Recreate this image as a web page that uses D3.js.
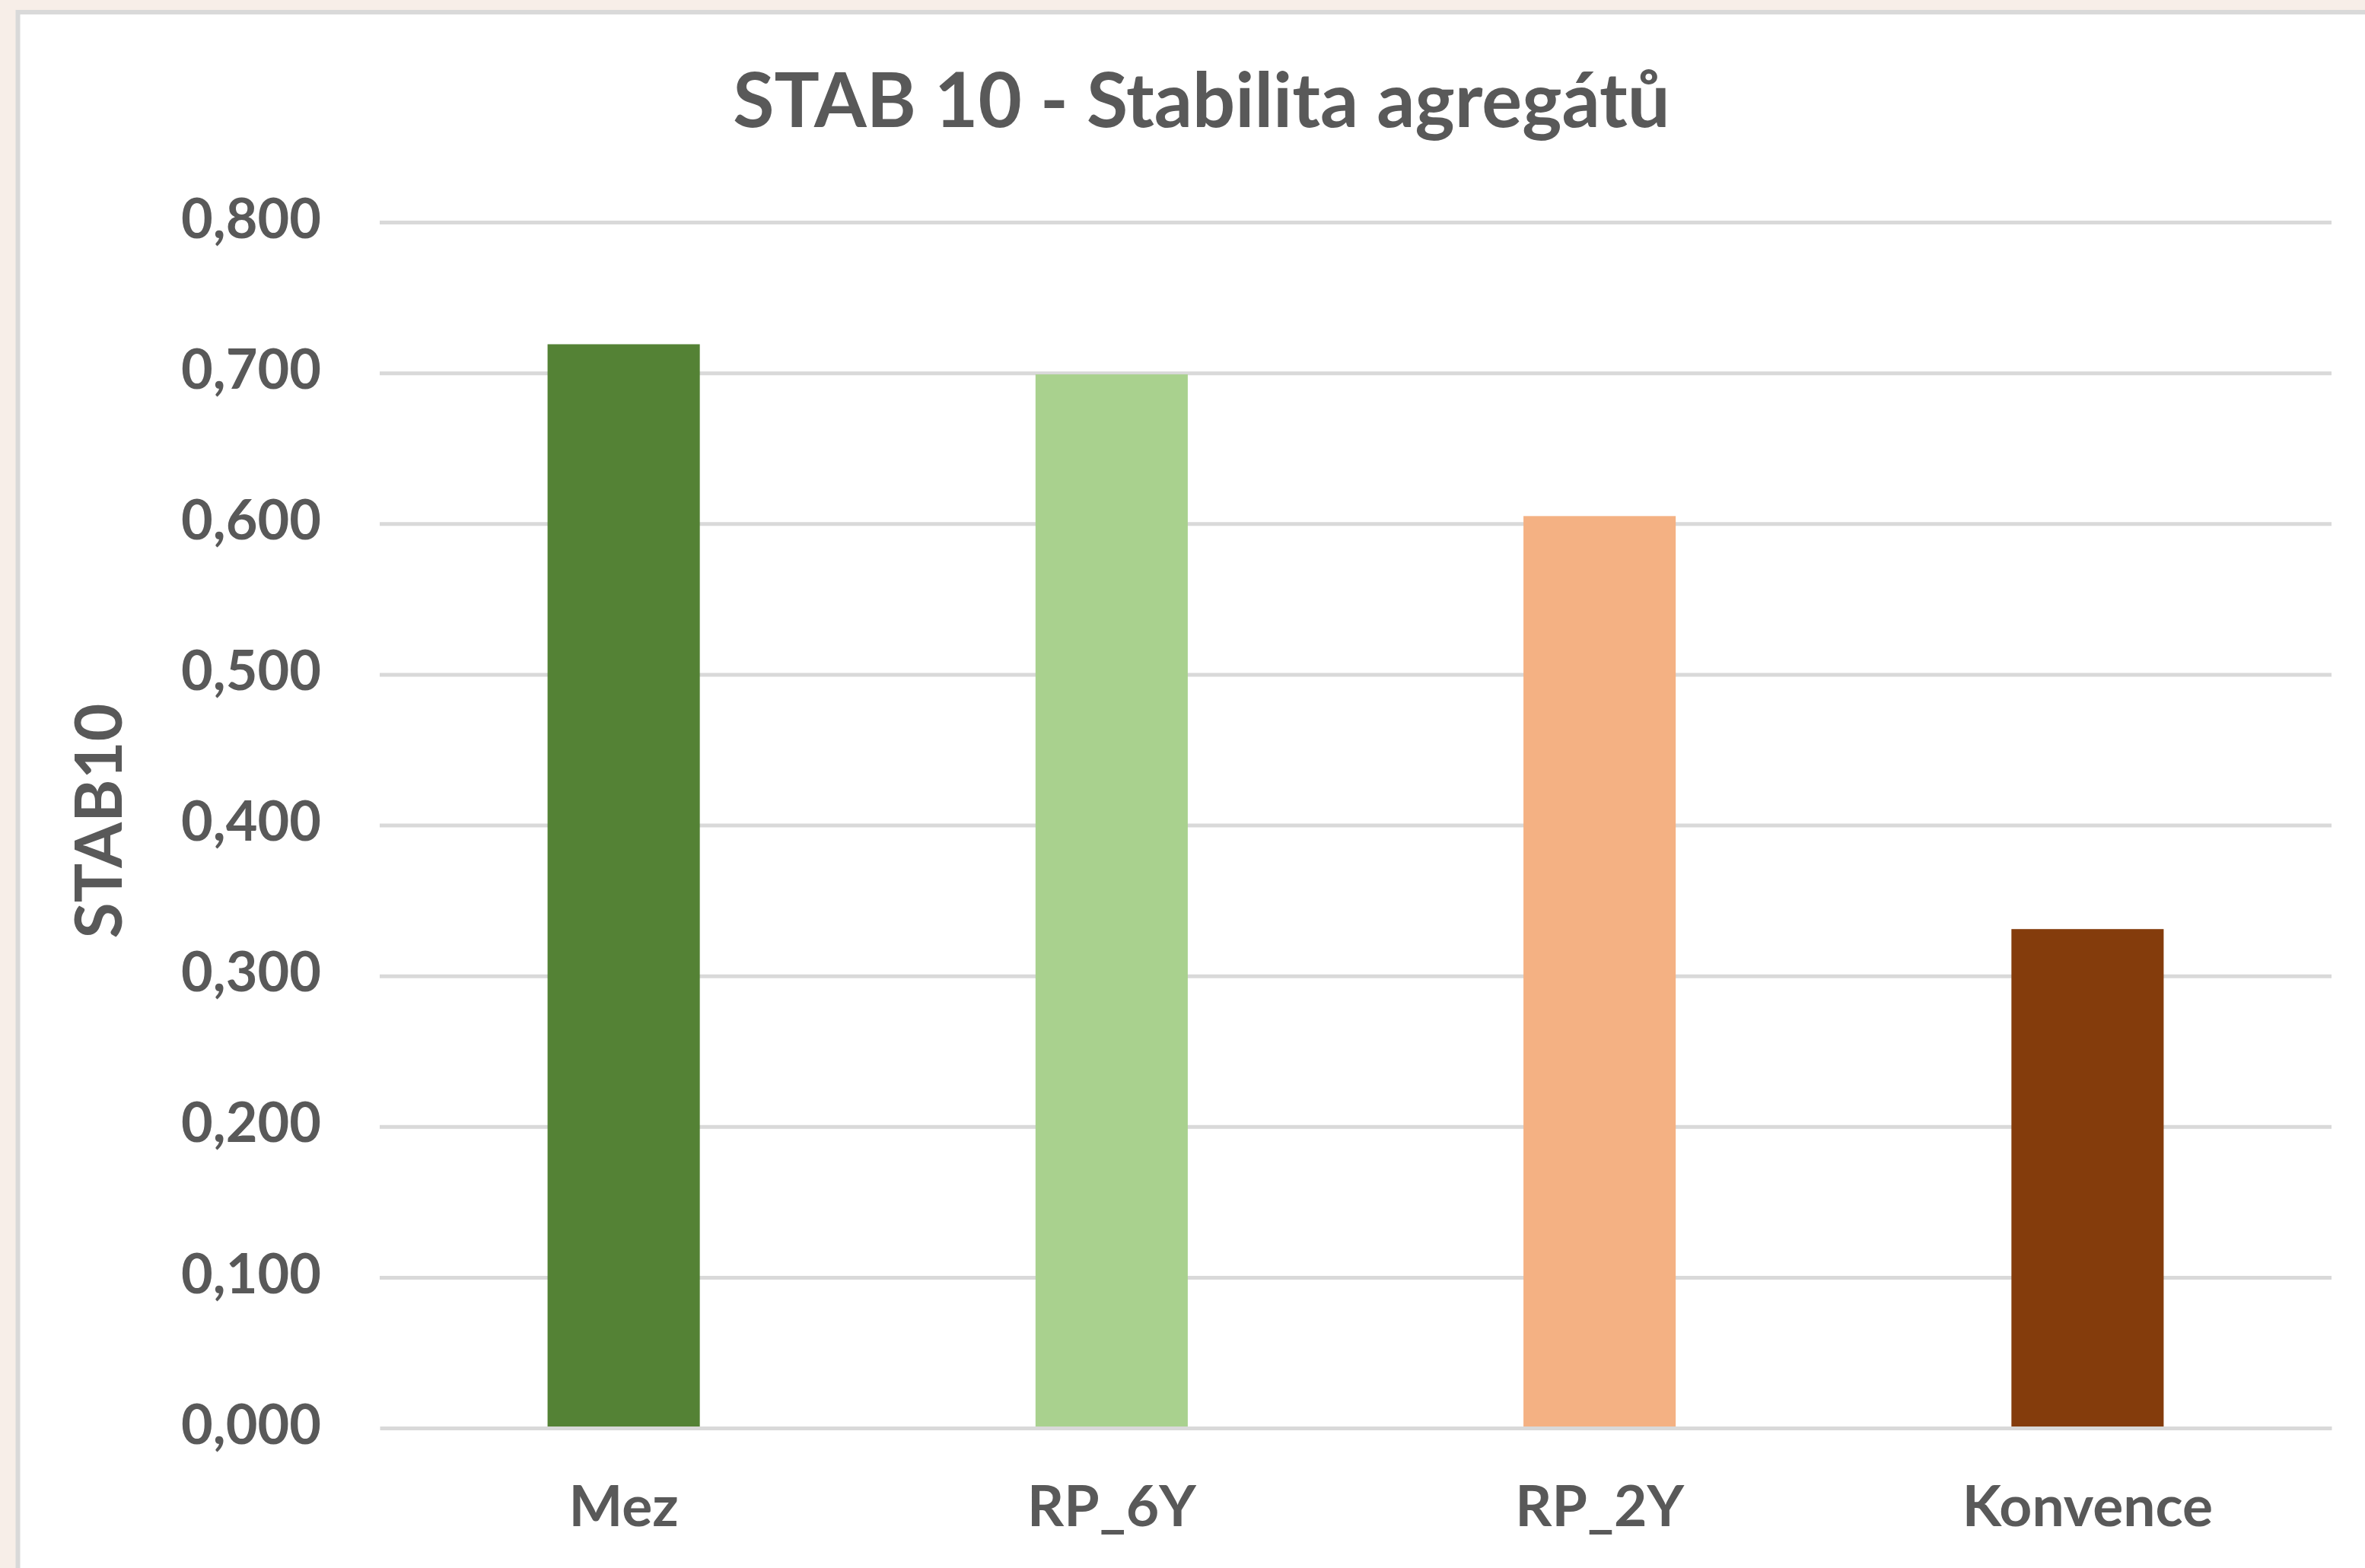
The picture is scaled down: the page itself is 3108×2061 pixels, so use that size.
<!DOCTYPE html>
<html>
<head>
<meta charset="utf-8">
<script src="https://cdn.jsdelivr.net/npm/d3@7"></script>
<style>
  body { margin: 0; background: #f7eee8; }
  svg { display: block; }
  text { font-family: Lato, "Open Sans", sans-serif; font-weight: bold; fill: #595959; }
</style>
</head>
<body>
<div id="chart"></div>
<script>
// data
const categories = ["Mez", "RP_6Y", "RP_2Y", "Konvence"];
const stabValues = [0.719, 0.699, 0.605, 0.331];
const yTickValues = [0, 0.1, 0.2, 0.3, 0.4, 0.5, 0.6, 0.7, 0.8];
const barColors = ["#548235", "#a9d18e", "#f4b183", "#843c0c"];
const chartTitle = "STAB 10 - Stabilita agregátů";
const yTitle = "STAB10";

const width = 3108, height = 2061;
const plot = { left: 499, right: 3064, top: 292, bottom: 1877 };

const svg = d3.select("#chart").append("svg")
  .attr("width", width).attr("height", height);

// paper background + chart box
svg.append("rect").attr("width", width).attr("height", height).attr("fill", "#f7eee8");
svg.append("rect")
  .attr("x", 23.5).attr("y", 16).attr("width", width).attr("height", height)
  .attr("fill", "#ffffff").attr("stroke", "#d9d9d9").attr("stroke-width", 6);

const x = d3.scaleBand().domain(categories)
  .range([plot.left, plot.right])
  .paddingInner(0.688).paddingOuter(0.344);
const y = d3.scaleLinear().domain([0, 0.8]).range([plot.bottom, plot.top]);

const locale = d3.formatLocale({ decimal: ",", thousands: " ", grouping: [3], currency: ["", " Kč"] });
const fmt = locale.format(".3f");

// gridlines
const grid = svg.append("g").attr("transform", `translate(${plot.left},0)`)
  .call(d3.axisLeft(y).tickValues(yTickValues.slice(1)).tickSize(-(plot.right - plot.left)).tickFormat(""));
grid.select(".domain").remove();
grid.selectAll("line").attr("stroke", "#d9d9d9").attr("stroke-width", 5);

// y tick labels
const yAxis = svg.append("g").attr("transform", `translate(${plot.left},0)`)
  .call(d3.axisLeft(y).tickValues(yTickValues).tickSize(0).tickPadding(77).tickFormat(fmt));
yAxis.select(".domain").remove();
yAxis.selectAll("text").style("font-size", "72px").attr("dy", "0.28em");

// bars
svg.append("g").selectAll("rect")
  .data(stabValues)
  .join("rect")
  .attr("x", (d, i) => x(categories[i]))
  .attr("y", d => y(d))
  .attr("width", x.bandwidth())
  .attr("height", d => y(0) - y(d))
  .attr("fill", (d, i) => barColors[i]);

// x axis (zero line on top of bars)
const xAxis = svg.append("g").attr("transform", `translate(0,${plot.bottom})`)
  .call(d3.axisBottom(x).tickSize(0).tickSizeOuter(0).tickPadding(76));
xAxis.select(".domain").attr("stroke", "#d9d9d9").attr("stroke-width", 5);
xAxis.selectAll("text").style("font-size", "75px");

// title
svg.append("text")
  .attr("x", 1579).attr("y", 167)
  .attr("text-anchor", "middle")
  .style("font-size", "99px")
  .text(chartTitle);

// y axis title
svg.append("text")
  .attr("transform", "translate(160,1079) rotate(-90)")
  .attr("text-anchor", "middle")
  .style("font-size", "86px")
  .text(yTitle);
</script>
</body>
</html>
